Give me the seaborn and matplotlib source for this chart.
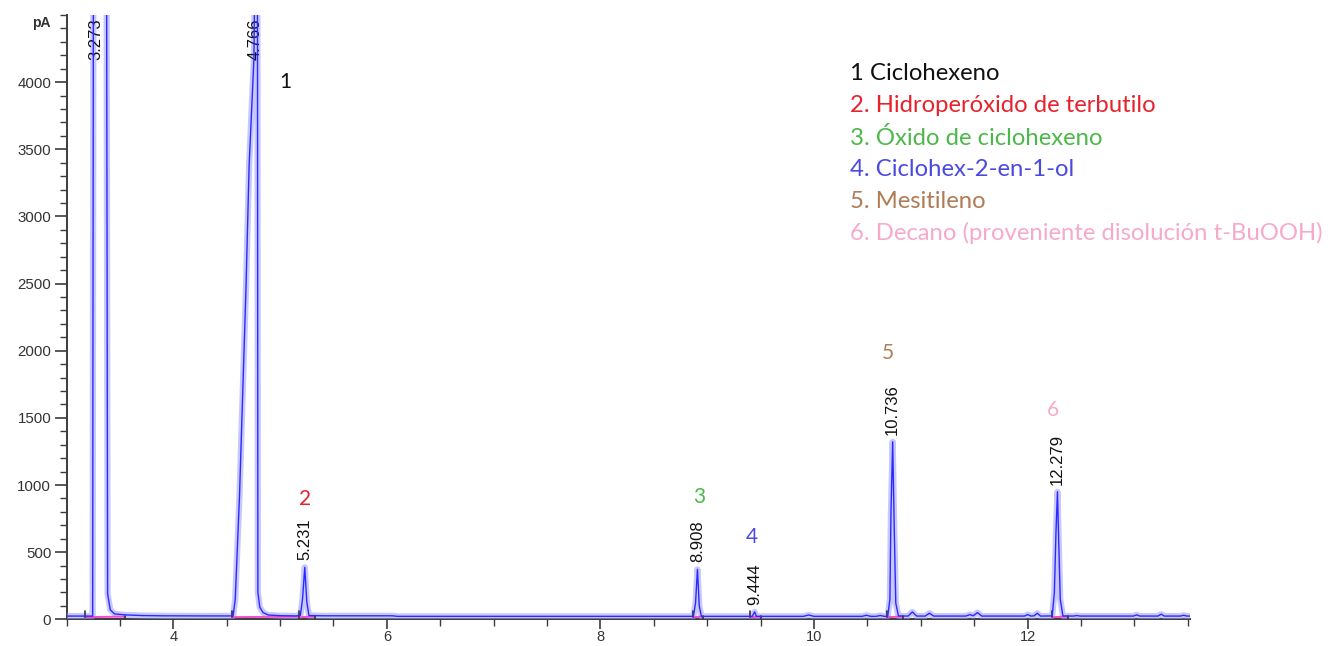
import numpy as np
import pandas as pd
import matplotlib
matplotlib.use("Agg")
import matplotlib.pyplot as plt
import matplotlib.transforms as mtransforms
import seaborn as sns

# ---- data -------------------------------------------------------------
# integrated peaks: retention time (min), apex signal (pA), printed label
peak_rt = [3.273, 4.766, 5.231, 8.908, 9.444, 10.736, 12.279]
peak_height = [5000, 5000, 387, 372, 55, 1322, 950]
peak_label = ["3.273", "4.766", "5.231", "8.908", "9.444", "10.736", "12.279"]

# FID trace between the apexes (min, pA)
trace_time = [3.00, 3.245, 3.252, 3.375, 3.385, 3.41, 3.45, 3.55, 3.70, 3.90, 4.30,
              4.56, 4.58, 4.62, 4.68, 4.71, 4.755, 4.788, 4.792, 4.81, 4.84, 4.89,
              5.00, 5.15, 5.19, 5.21, 5.25, 5.27, 5.40, 6.05, 6.10,
              8.87, 8.89, 8.925, 8.945, 9.42, 9.46,
              9.90, 9.95, 10.00, 10.45, 10.49, 10.53, 10.58, 10.62, 10.66,
              10.69, 10.71, 10.72, 10.75, 10.765, 10.79,
              10.88, 10.92, 10.96, 11.04, 11.08, 11.12, 11.42, 11.46, 11.49, 11.53,
              11.57, 11.97, 12.00, 12.03, 12.06, 12.09, 12.12,
              12.23, 12.25, 12.265, 12.29, 12.305, 12.33,
              12.43, 12.46, 12.49, 12.99, 13.02, 13.05, 13.22, 13.25, 13.28,
              13.43, 13.46, 13.49, 13.55]
trace_pa = [24, 24, 5000, 5000, 190, 70, 40, 33, 28, 26, 25,
            25, 150, 920, 2450, 3380, 4175, 4800, 200, 90, 50, 32,
            27, 25, 30, 150, 130, 28, 26, 26, 22,
            22, 120, 100, 22, 22, 22,
            22, 32, 22, 22, 30, 22, 22, 28, 22,
            24, 150, 800, 700, 120, 25,
            24, 55, 24, 24, 45, 24, 24, 35, 26, 50,
            24, 24, 35, 24, 26, 45, 24,
            25, 200, 650, 600, 150, 25,
            24, 28, 24, 24, 33, 24, 24, 38, 24,
            24, 30, 24, 24]

# integration baselines (start, end in min)
int_start = [3.17, 4.55, 5.18, 8.87, 9.40, 10.68, 12.23]
int_end = [3.55, 5.18, 5.33, 8.96, 9.50, 10.83, 12.38]

# compound key
compound_num = ["1", "2", "3", "4", "5", "6"]
compound_name = ["1 Ciclohexeno",
                 "2. Hidroperóxido de terbutilo",
                 "3. Óxido de ciclohexeno",
                 "4. Ciclohex-2-en-1-ol",
                 "5. Mesitileno",
                 "6. Decano (proveniente disolución t-BuOOH)"]

x_ticks = [4, 6, 8, 10, 12]
y_ticks = [0, 500, 1000, 1500, 2000, 2500, 3000, 3500, 4000]

# ---- styling ----------------------------------------------------------
sns.set_theme(style="ticks")
plt.rcParams["font.family"] = ["Liberation Sans", "DejaVu Sans"]

compound_color = ["#111111", "#e8222c", "#4cb84a", "#4a4ae0", "#b07b55", "#f7aac8"]
key_font = ["Lato", "DejaVu Sans"]
axis_grey = "#3c3c3c"

trace = pd.DataFrame({"t": trace_time + peak_rt, "pA": trace_pa + peak_height})
trace = trace.sort_values("t").reset_index(drop=True)

fig = plt.figure(figsize=(13.31, 6.46), dpi=100)
W, H = 1331, 646
ax = fig.add_axes([66.5 / W, 1 - 619.3 / H, (1190 - 66.5) / W, (619.3 - 15) / H])

# detector signal halo
sns.lineplot(data=trace, x="t", y="pA", ax=ax, sort=False, estimator=None,
             color="#9c9cff", lw=4.5, alpha=0.55, zorder=3)

# integration baselines and start/end marks
for s, e in zip(int_start, int_end):
    ax.plot([s, e], [16, 20], color="#f04ccc", lw=1.4, zorder=3.5)
    ax.plot([s, s], [15, 65], color="#333333", lw=1.2, zorder=3.5)
    ax.plot([e, e], [0, 28], color="#333333", lw=1.2, zorder=3.5)
ax.plot([9.95, 10.46], [4, 4], color="#8a8a8a", lw=1.6, zorder=2)

# detector signal core line
sns.lineplot(data=trace, x="t", y="pA", ax=ax, sort=False, estimator=None,
             color="#2a2aff", lw=1.0, zorder=4)

ax.set_xlim(3.0, 13.52)
ax.set_ylim(0, 4500)

# retention time labels above each apex
for rt, h, lab in zip(peak_rt, peak_height, peak_label):
    t = ax.annotate(lab, (rt, min(h, 4115)), xytext=(0, 5), textcoords="offset points",
                    rotation=90, ha="center", va="bottom", fontsize=12,
                    color="#111111", annotation_clip=False)
    t.set_clip_on(True)
    t.set_clip_path(ax.patch)

# compound numbers near their peaks
num_pos = [(5.05, 4000), (5.233, 896), (8.92, 911), (9.42, 613), (10.69, 1983), (12.24, 1559)]
for (x, y), n, c in zip(num_pos, compound_num, compound_color):
    ax.text(x, y, n, color=c, fontsize=15, ha="center", va="center", family=key_font)

# compound key
for i, (name, c) in enumerate(zip(compound_name, compound_color)):
    fig.text(850 / W, 1 - (74 + 31.8 * i) / H, name, color=c, fontsize=17.2,
             ha="left", va="center", family=key_font)

# axes
ax.set_xticks(x_ticks)
ax.set_xticks(np.arange(3.0, 13.51, 0.5), minor=True)
ax.set_yticks(y_ticks)
ax.set_yticks(np.arange(0, 4501, 100), minor=True)
ax.set_xlabel("")
ax.set_ylabel("")
ax.tick_params(axis="both", which="major", length=9, width=1.2, color=axis_grey,
               labelsize=10.8, labelcolor="#333333", pad=2)
ax.tick_params(axis="both", which="minor", length=5, width=1.0, color=axis_grey)
ax.tick_params(axis="x", which="major", length=7.5, pad=0.5, labelsize=10.5)
for side in ["top", "right"]:
    ax.spines[side].set_visible(False)
for side in ["left", "bottom"]:
    ax.spines[side].set_color(axis_grey)
    ax.spines[side].set_linewidth(1.4)

blend = mtransforms.blended_transform_factory(ax.transAxes, ax.transData)
ax.text(-0.014, 4440, "pA", transform=blend, ha="right", va="center",
        fontsize=10, fontweight="bold", color="#333333")

fig.savefig("out.png", dpi=100)
